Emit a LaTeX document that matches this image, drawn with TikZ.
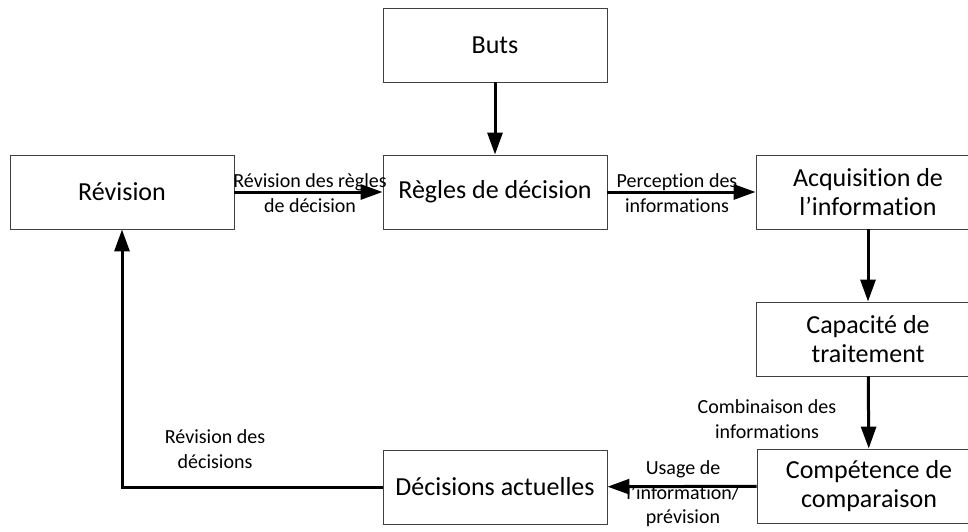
\documentclass[tikz,border=0pt]{standalone}
\usepackage{fontspec}
\setmainfont[Ligatures=NoCommon]{Carlito}
\usetikzlibrary{arrows.meta}
\begin{document}
\begin{tikzpicture}[x=1pt,y=-1pt,
  box/.style={draw=black!75,line width=0.9pt,minimum width=224pt,minimum height=74pt,
    inner sep=0pt,align=center,font=\fontsize{26}{29.5}\selectfont},
  lbl/.style={align=center,inner sep=0pt,font=\fontsize{20}{24.5}\selectfont},
  arr/.style={line width=3pt,-{Triangle[length=22pt,width=15pt]}}]
\clip (0,0) rectangle (968,532);
\fill[white] (0,0) rectangle (968,532);
\node[box] (buts) at (495,45) {Buts};
\node[box] (regles) at (495,192) {Règles de décision};
\node[box] (revision) at (122,192) {Révision};
\node[box] (acq) at (868,192) {Acquisition de\\l’information};
\node[box] (cap) at (868,339) {Capacité de\\traitement};
\node[box] (comp) at (869,486) {Compétence de\\comparaison};
\node[box] (dec) at (495,487) {Décisions actuelles};
\draw[arr] (buts) -- (regles);
\draw[arr] (revision) -- (regles);
\draw[arr] (regles) -- (acq);
\draw[arr] (acq) -- (cap);
\draw[arr] (cap) -- (comp);
\draw[arr] (comp) -- (dec);
\draw[arr] (dec.west) -| (revision.south);
\node[lbl] (l1) at (310,193) {Révision des règles\\de décision};
\node[lbl] (l2) at (677,193) {Perception des\\informations};
\node[lbl] (l3) at (767,419) {Combinaison des\\informations};
\node[lbl] (l4) at (683,494) {Usage de\\l’information/\\prévision};
\node[lbl] (l5) at (215,449) {Révision des\\décisions};
\end{tikzpicture}
\end{document}
